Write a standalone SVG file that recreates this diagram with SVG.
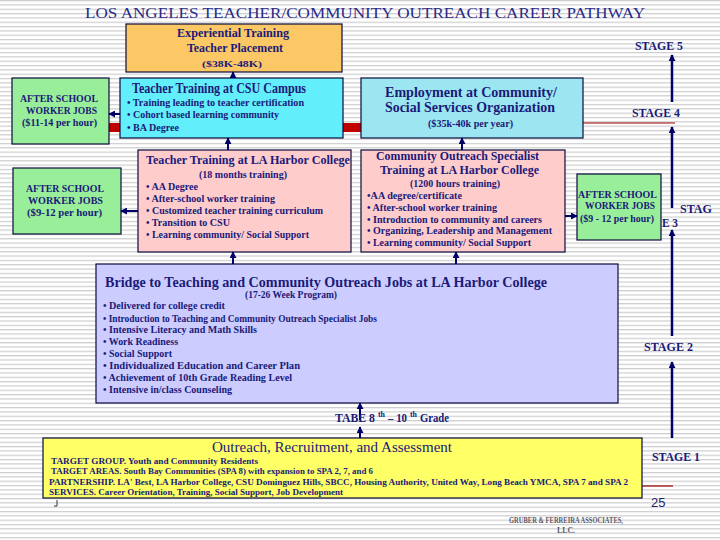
<svg xmlns="http://www.w3.org/2000/svg" width="720" height="540" viewBox="0 0 720 540">
<defs>
<pattern id="stripes" width="8" height="4.33" patternUnits="userSpaceOnUse">
<rect width="8" height="4.33" fill="#ffffff"/>
<rect y="0" width="8" height="1.2" fill="#cdcdcd"/>
</pattern>
<marker id="ah" viewBox="0 0 8 8" refX="7" refY="4" markerWidth="7" markerHeight="7" markerUnits="userSpaceOnUse" orient="auto">
<path d="M0,0 L8,4 L0,8 z" fill="#000066"/>
</marker>
<style>
.box{stroke:#0a0a3c;stroke-width:1.2}
.t{font-family:"Liberation Serif","Times New Roman",serif;fill:#1a1a78;font-weight:bold}
.n{font-weight:normal}
.s10{font-size:10px}
.s9{font-size:9.5px}
.s8{font-size:8px}
.stg{font-size:12.5px}
.conn{stroke:#000066;stroke-width:2;fill:none}
.stage{stroke:#000066;stroke-width:2.5;fill:none}
</style>
</defs>
<rect width="720" height="540" fill="url(#stripes)"/>

<text class="t n" x="85" y="18" font-size="15" textLength="560" lengthAdjust="spacingAndGlyphs" style="fill:#2a2a88">LOS ANGELES TEACHER/COMMUNITY OUTREACH CAREER PATHWAY</text>

<rect x="109" y="123" width="252" height="9" fill="#c00000"/>
<line x1="583" y1="123" x2="675" y2="123" stroke="#990000" stroke-width="1.2"/>
<line x1="642" y1="486" x2="673" y2="486" stroke="#990000" stroke-width="1.2"/>

<g id="experiential">
<rect class="box" x="126" y="24" width="216" height="48" fill="#fcc765"/>
<text class="t" x="177" y="37" font-size="12.5" textLength="112" lengthAdjust="spacingAndGlyphs">Experiential Training</text>
<text class="t" x="187" y="52" font-size="12.5" textLength="96" lengthAdjust="spacingAndGlyphs">Teacher Placement</text>
<text class="t" x="202" y="67" font-size="9" textLength="60" lengthAdjust="spacingAndGlyphs">($38K-48K)</text>
</g>

<g id="after1">
<rect class="box" x="12" y="78" width="97" height="66" fill="#99ee99"/>
<text class="t s10" x="20" y="102" textLength="78" lengthAdjust="spacingAndGlyphs">AFTER SCHOOL</text>
<text class="t s10" x="26" y="114" textLength="71" lengthAdjust="spacingAndGlyphs">WORKER JOBS</text>
<text class="t s10" x="22" y="126" textLength="75" lengthAdjust="spacingAndGlyphs">($11-14 per hour)</text>
</g>

<g id="csu">
<rect class="box" x="120" y="78" width="223" height="60" fill="#63eefc"/>
<text class="t" x="132" y="93" font-size="14" textLength="174" lengthAdjust="spacingAndGlyphs">Teacher Training at CSU Campus</text>
<text class="t s10" x="127" y="106" textLength="177" lengthAdjust="spacingAndGlyphs">• Training leading to teacher certification</text>
<text class="t s10" x="127" y="118" textLength="152" lengthAdjust="spacingAndGlyphs">• Cohort based learning community</text>
<text class="t s10" x="127" y="131" textLength="52" lengthAdjust="spacingAndGlyphs">• BA Degree</text>
</g>

<g id="employment">
<rect class="box" x="361" y="78" width="222" height="60" fill="#9ce6f2"/>
<text class="t" x="385" y="97" font-size="14" textLength="172" lengthAdjust="spacingAndGlyphs">Employment at Community/</text>
<text class="t" x="385" y="112" font-size="14" textLength="170" lengthAdjust="spacingAndGlyphs">Social Services Organization</text>
<text class="t s9" x="428" y="127" textLength="85" lengthAdjust="spacingAndGlyphs">($35k-40k per year)</text>
</g>

<g id="lah-teacher">
<rect class="box" x="138" y="150" width="213" height="102" fill="#ffcccc"/>
<text class="t" x="146" y="164" font-size="13.5" textLength="204" lengthAdjust="spacingAndGlyphs">Teacher Training at LA Harbor College</text>
<text class="t s10" x="199" y="178" textLength="88" lengthAdjust="spacingAndGlyphs">(18 months training)</text>
<text class="t s10" x="146" y="190" textLength="52" lengthAdjust="spacingAndGlyphs">• AA Degree</text>
<text class="t s10" x="146" y="202" textLength="129" lengthAdjust="spacingAndGlyphs">• After-school worker training</text>
<text class="t s10" x="146" y="214" textLength="177" lengthAdjust="spacingAndGlyphs">• Customized teacher training curriculum</text>
<text class="t s10" x="146" y="226" textLength="84" lengthAdjust="spacingAndGlyphs">• Transition to CSU</text>
<text class="t s10" x="146" y="238" textLength="163" lengthAdjust="spacingAndGlyphs">• Learning community/ Social Support</text>
</g>

<g id="after2">
<rect class="box" x="13" y="168" width="108" height="66" fill="#99ee99"/>
<text class="t s10" x="26" y="192" textLength="78" lengthAdjust="spacingAndGlyphs">AFTER SCHOOL</text>
<text class="t s10" x="28" y="204" textLength="75" lengthAdjust="spacingAndGlyphs">WORKER JOBS</text>
<text class="t s10" x="27" y="216" textLength="75" lengthAdjust="spacingAndGlyphs">($9-12 per hour)</text>
</g>

<g id="outreach-specialist">
<rect class="box" x="361" y="150" width="204" height="102" fill="#ffcccc"/>
<text class="t" x="376" y="160" font-size="13.5" textLength="163" lengthAdjust="spacingAndGlyphs">Community Outreach Specialist</text>
<text class="t" x="380" y="174" font-size="13.5" textLength="159" lengthAdjust="spacingAndGlyphs">Training at LA Harbor College</text>
<text class="t s10" x="410" y="187" textLength="90" lengthAdjust="spacingAndGlyphs">(1200 hours training)</text>
<text class="t s10" x="367" y="199" textLength="95" lengthAdjust="spacingAndGlyphs">•AA degree/certificate</text>
<text class="t s10" x="367" y="211" textLength="130" lengthAdjust="spacingAndGlyphs">• After-school worker training</text>
<text class="t s10" x="367" y="223" textLength="175" lengthAdjust="spacingAndGlyphs">• Introduction to community and careers</text>
<text class="t s10" x="367" y="234" textLength="185" lengthAdjust="spacingAndGlyphs">• Organizing, Leadership and Management</text>
<text class="t s10" x="367" y="246" textLength="164" lengthAdjust="spacingAndGlyphs">• Learning community/ Social Support</text>
</g>

<g id="after3">
<rect class="box" x="577" y="174" width="84" height="66" fill="#99ee99"/>
<text class="t s9" x="578" y="198" textLength="79" lengthAdjust="spacingAndGlyphs">AFTER SCHOOL</text>
<text class="t s9" x="585" y="209" textLength="70" lengthAdjust="spacingAndGlyphs">WORKER JOBS</text>
<text class="t s9" x="580" y="222" textLength="74" lengthAdjust="spacingAndGlyphs">($9 - 12 per hour)</text>
</g>

<g id="bridge">
<rect class="box" x="96" y="264" width="522" height="139" fill="#ccccff"/>
<text class="t" x="105" y="287" font-size="15" textLength="442" lengthAdjust="spacingAndGlyphs">Bridge to Teaching and Community Outreach Jobs at LA Harbor College</text>
<text class="t s10" x="245" y="298" textLength="92" lengthAdjust="spacingAndGlyphs">(17-26 Week Program)</text>
<text class="t s10" x="103" y="309" textLength="122" lengthAdjust="spacingAndGlyphs">• Delivered for college credit</text>
<text class="t s10" x="103" y="322" textLength="274" lengthAdjust="spacingAndGlyphs">• Introduction to Teaching and Community Outreach Specialist Jobs</text>
<text class="t s10" x="103" y="333" textLength="154" lengthAdjust="spacingAndGlyphs">• Intensive Literacy and Math Skills</text>
<text class="t s10" x="103" y="345" textLength="75" lengthAdjust="spacingAndGlyphs">• Work Readiness</text>
<text class="t s10" x="103" y="357" textLength="69" lengthAdjust="spacingAndGlyphs">• Social Support</text>
<text class="t s10" x="103" y="369" textLength="197" lengthAdjust="spacingAndGlyphs">• Individualized Education and Career Plan</text>
<text class="t s10" x="103" y="381" textLength="189" lengthAdjust="spacingAndGlyphs">• Achievement of 10th Grade Reading Level</text>
<text class="t s10" x="103" y="393" textLength="129" lengthAdjust="spacingAndGlyphs">• Intensive in/class Counseling</text>
</g>

<g id="outreach">
<rect class="box" x="43" y="438" width="599" height="60" fill="#ffff66"/>
<text class="t n" x="212" y="452" font-size="15" textLength="240" lengthAdjust="spacingAndGlyphs">Outreach, Recruitment, and Assessment</text>
<text class="t s8" x="51" y="464" textLength="207" lengthAdjust="spacingAndGlyphs">TARGET GROUP.  Youth and Community  Residents</text>
<text class="t s8" x="51" y="474" textLength="322" lengthAdjust="spacingAndGlyphs">TARGET AREAS.  South Bay Communities (SPA 8) with expansion to SPA 2, 7, and 6</text>
<text class="t s8" x="49" y="485" textLength="579" lengthAdjust="spacingAndGlyphs">PARTNERSHIP. LA' Best, LA Harbor College, CSU Dominguez Hills, SBCC, Housing Authority, United Way, Long Beach YMCA, SPA 7 and SPA 2</text>
<text class="t s8" x="49" y="495" textLength="294" lengthAdjust="spacingAndGlyphs">SERVICES. Career Orientation, Training, Social Support, Job Development</text>
</g>

<g id="connectors">
<path class="conn" d="M233,78 V72" marker-end="url(#ah)"/>
<path class="conn" d="M228,150 V138" marker-end="url(#ah)"/>
<path class="conn" d="M462,150 V138" marker-end="url(#ah)"/>
<path class="conn" d="M120,114 H109" marker-end="url(#ah)"/>
<path class="conn" d="M138,211 H121" marker-end="url(#ah)"/>
<path class="conn" d="M565,216 H577" marker-end="url(#ah)"/>
<path class="conn" d="M233,264 V252" marker-end="url(#ah)"/>
<path class="conn" d="M456,264 V252" marker-end="url(#ah)"/>
<path class="conn" d="M360,420 V403" marker-end="url(#ah)"/>
<path class="conn" d="M360,438 V427" marker-end="url(#ah)"/>
<path class="stage" d="M672,102 V55" marker-end="url(#ah)"/>
<path class="stage" d="M672,208 V127" marker-end="url(#ah)"/>
<path class="stage" d="M672,336 V230" marker-end="url(#ah)"/>
<path class="stage" d="M672,438 V362" marker-end="url(#ah)"/>
</g>

<g id="labels">
<text class="t stg" x="635" y="50" textLength="48" lengthAdjust="spacingAndGlyphs">STAGE 5</text>
<text class="t stg" x="632" y="117" textLength="48" lengthAdjust="spacingAndGlyphs">STAGE 4</text>
<text class="t stg" x="680" y="213" textLength="32" lengthAdjust="spacingAndGlyphs">STAG</text>
<text class="t stg" x="662" y="227" textLength="16" lengthAdjust="spacingAndGlyphs">E 3</text>
<text class="t stg" x="644" y="351" textLength="49" lengthAdjust="spacingAndGlyphs">STAGE 2</text>
<text class="t" x="652" y="461" font-size="13" textLength="48" lengthAdjust="spacingAndGlyphs">STAGE 1</text>
<text class="t" x="335" y="422" font-size="13" textLength="40" lengthAdjust="spacingAndGlyphs">TABE 8</text>
<text class="t" x="378" y="416.5" font-size="8" textLength="7" lengthAdjust="spacingAndGlyphs">th</text>
<text class="t" x="388" y="422" font-size="13" textLength="19" lengthAdjust="spacingAndGlyphs">– 10</text>
<text class="t" x="410" y="416.5" font-size="8" textLength="7" lengthAdjust="spacingAndGlyphs">th</text>
<text class="t" x="420" y="422" font-size="13" textLength="29" lengthAdjust="spacingAndGlyphs">Grade</text>
<path d="M57,500 V506 H54" stroke="#333344" stroke-width="1" fill="none"/>
<text x="651" y="507" font-family="'Liberation Sans',Arial,sans-serif" font-size="13" fill="#222266">25</text>
<text class="t" x="509" y="523" font-size="8.5" style="fill:#5a5a6a" textLength="114" lengthAdjust="spacingAndGlyphs">GRUBER &amp; FERREIRA ASSOCIATES,</text>
<text class="t" x="557" y="533" font-size="8.5" style="fill:#5a5a6a" textLength="18" lengthAdjust="spacingAndGlyphs">LLC.</text>
</g>
</svg>
